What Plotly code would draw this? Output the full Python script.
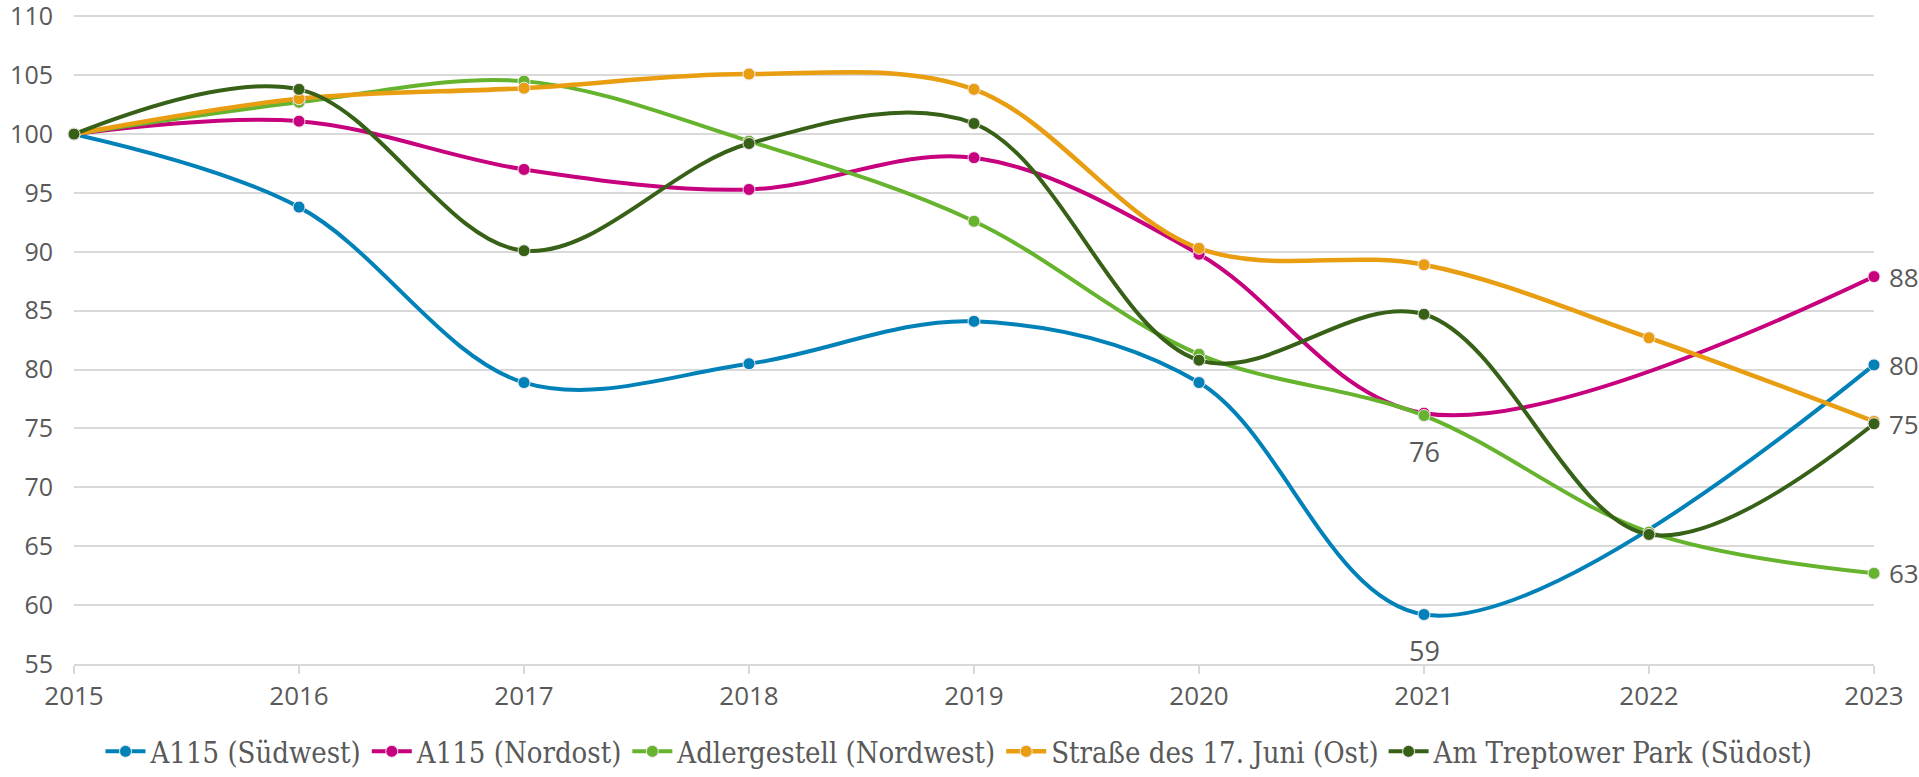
import plotly.graph_objects as go

years = [2015, 2016, 2017, 2018, 2019, 2020, 2021, 2022, 2023]

names = ["A115 (Südwest)", "A115 (Nordost)", "Adlergestell (Nordwest)",
         "Straße des 17. Juni (Ost)", "Am Treptower Park (Südost)"]

a115_sw = [100, 93.8, 78.9, 80.5, 84.1, 78.9, 59.2, None, 80.4]
a115_no = [100, 101.1, 97.0, 95.3, 98.0, 89.8, 76.3, None, 87.9]
adlergestell = [100, 102.7, 104.5, 99.4, 92.6, 81.3, 76.1, 66.2, 62.7]
strasse_17 = [100, 103.0, 103.9, 105.1, 103.8, 90.3, 88.9, 82.7, 75.6]
treptower = [100, 103.8, 90.1, 99.2, 100.9, 80.8, 84.7, 66.0, 75.4]

y_ticks = [55, 60, 65, 70, 75, 80, 85, 90, 95, 100, 105, 110]

series = [a115_sw, a115_no, adlergestell, strasse_17, treptower]
colors = ["#0082B9", "#C7007D", "#66B32E", "#E99D11", "#376117"]
widths = [4, 4, 4, 4.5, 4]

# data labels: (series index, year index, placement)
labels = [(0, 6, "below"), (0, 8, "right"), (1, 8, "right"),
          (2, 6, "below"), (2, 8, "right"), (4, 8, "right")]

fig = go.Figure()
for nm, vals, col, w in zip(names, series, colors, widths):
    fig.add_trace(go.Scatter(
        x=years, y=vals, name=nm, mode="lines+markers",
        line=dict(color=col, width=w, shape="spline", smoothing=1.0),
        marker=dict(color=col, size=12, line=dict(color="#F2E6EE", width=1)),
        connectgaps=True, cliponaxis=False,
    ))

for si, yi, place in labels:
    v = series[si][yi]
    if place == "below":
        fig.add_annotation(x=years[yi], y=v, text=f"{round(v):d}", showarrow=False,
                           xanchor="center", yanchor="middle", yshift=-36,
                           font=dict(family="Open Sans", size=27, color="#595959"))
    else:
        fig.add_annotation(x=years[yi], y=v, text=f"{round(v):d}", showarrow=False,
                           xanchor="left", yanchor="middle", xshift=13,
                           font=dict(family="Open Sans", size=26, color="#595959"))

fig.update_layout(
    width=1919, height=777,
    margin=dict(l=74, r=45, t=14, b=113),
    paper_bgcolor="white", plot_bgcolor="white",
    font=dict(family="Open Sans", size=26, color="#595959"),
    showlegend=True,
    legend=dict(orientation="h", xref="container", x=0.5, xanchor="center",
                yref="container", y=0.0, yanchor="bottom",
                font=dict(family="DejaVu Serif Condensed, DejaVu Serif", size=29, color="#595959"),
                itemwidth=40, traceorder="normal"),
    xaxis=dict(range=[2015, 2023], tickvals=years, ticktext=[str(y) for y in years],
               showgrid=False, zeroline=False, showline=True, linecolor="#D9D9D9",
               linewidth=1.5, ticks="outside", ticklen=8, tickcolor="#D9D9D9",
               tickwidth=1.5, automargin=False, ticklabeloverflow="allow",
               tickfont=dict(size=26, color="#595959")),
    yaxis=dict(range=[55, 110.2], tickvals=y_ticks,
               showgrid=True, gridcolor="#D9D9D9",
               gridwidth=1.5, zeroline=False, showline=False, ticks="", automargin=False,
               ticklabeloverflow="allow",
               ticklabelstandoff=20, tickfont=dict(size=25, color="#595959")),
)

fig.write_html("out.html", config={"displayModeBar": False},
               post_script="document.body.style.margin='0';")
